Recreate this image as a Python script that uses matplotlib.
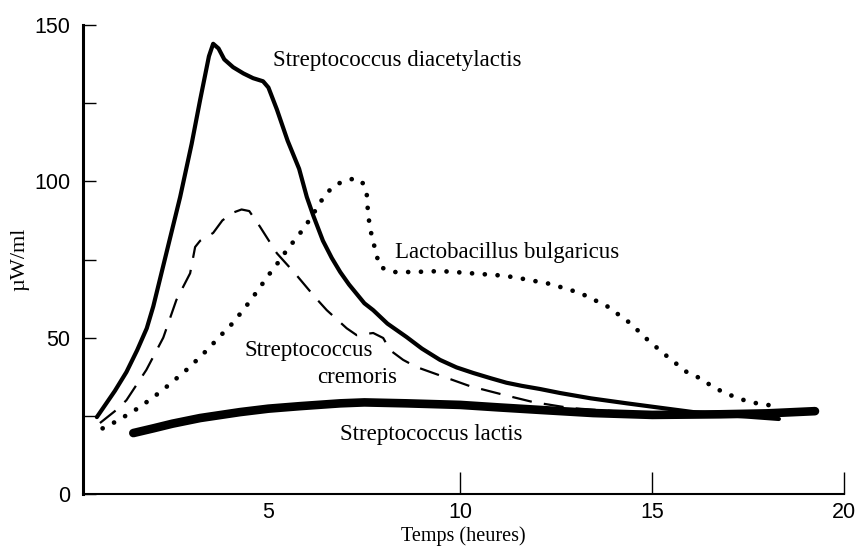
import numpy as np
import matplotlib
matplotlib.use("Agg")
import matplotlib.pyplot as plt

# Streptococcus diacetylactis (solid)
diac_x = [0.53, 1.0, 1.3, 1.58, 1.83, 2.0, 2.3, 2.7, 3.0, 3.22, 3.45, 3.56, 3.7, 3.85,
          4.08, 4.35, 4.6, 4.86, 5.0, 5.22, 5.5, 5.8, 6.0, 6.17, 6.42, 6.65, 6.87,
          7.1, 7.3, 7.5, 7.73, 8.1, 8.6, 9.0, 9.47, 9.9, 10.34, 10.8, 11.2, 11.6,
          12.07, 12.6, 13.4, 14.34, 15.2, 16.07, 17.2, 18.3]
diac_y = [24.6, 33, 39, 46, 53, 60, 75, 95, 112, 126, 140, 144, 142.5, 139,
          136.5, 134.5, 133, 132, 130, 123, 113, 104, 95, 89, 81, 75.5, 71,
          67, 64, 61, 58.8, 54.5, 50.2, 46.5, 42.9, 40.5, 38.7, 37, 35.6, 34.6,
          33.6, 32.3, 30.6, 29, 27.6, 26.2, 25, 24]

# Streptococcus cremoris (dashed)
crem_x = [0.61, 1.05, 1.3, 1.82, 2.26, 2.6, 2.96, 3.09, 3.22, 3.56, 3.8, 4.08, 4.3,
          4.5, 4.78, 5.22, 5.69, 6.21, 6.52, 7.04, 7.3, 7.73, 7.99, 8.17, 8.51,
          8.86, 9.68, 10.25, 11.2, 11.9, 12.86, 14.0, 15.0]
crem_y = [22.7, 27, 30, 39.7, 50, 62, 70.6, 79, 81, 83.5, 87.5, 90, 91, 90.5, 85.5,
          77, 70.6, 63, 58.8, 53, 50.8, 51.5, 49.9, 46, 42.9, 40.6, 37, 34.5,
          31.5, 29.4, 27.5, 26.5, 25.5]

# Lactobacillus bulgaricus (dotted)
bulg_x = [0.68, 1.0, 1.32, 1.61, 1.94, 2.25, 2.52, 2.83, 3.14, 3.43, 3.74, 4.05, 4.3,
          4.54, 5.04, 5.3, 5.51, 5.74, 5.98, 6.26, 6.47, 6.73, 7.04, 7.3, 7.46,
          7.56, 7.59, 7.64, 7.72, 7.83, 7.91, 8.25, 8.77, 9.5, 10.07, 10.6, 11.16,
          11.64, 12.34, 13.12, 13.82, 14.42, 14.89, 15.41, 15.9, 16.25, 16.59,
          16.85, 17.16, 17.47, 17.73, 18.0, 18.28]
bulg_y = [21, 23, 25.3, 27.5, 30.4, 33.3, 36.1, 39.3, 42.9, 46.4, 50.5, 54.4, 58.2,
          62, 70.6, 74.8, 78.6, 82, 86, 91.4, 95.6, 98.8, 100.4, 101, 99.4,
          96.2, 90.8, 85.4, 81.2, 75.8, 72.6, 71, 71, 71.3, 70.8, 70.3, 69.8,
          68.8, 67.2, 64.3, 60.1, 54.7, 49.2, 43.8, 39, 37, 34.2,
          32.6, 31, 29.7, 29, 28.5, 28]

# Streptococcus lactis (thick solid)
lact_x = [1.48, 2.0, 2.5, 3.22, 4.26, 5.0, 5.82, 6.87, 7.5, 8.6, 10.0, 11.0, 12.07,
          13.46, 15.0, 16.77, 18.0, 19.24]
lact_y = [19.5, 21, 22.5, 24.3, 26.2, 27.3, 28.1, 29, 29.3, 29, 28.5, 27.7, 26.9,
          25.9, 25.3, 25.5, 25.8, 26.5]

serif = "Liberation Serif"
sans = "Liberation Sans"

fig = plt.figure(figsize=(8.57, 5.46), dpi=100)
ax = fig.add_axes([0.0969, 0.0952, 0.8881, 0.8590])

ax.plot(diac_x, diac_y, color="black", lw=3.0, solid_capstyle="round",
        solid_joinstyle="round")
ax.plot(crem_x, crem_y, color="black", lw=1.6, linestyle=(0, (9, 5.5)))
ax.plot(bulg_x, bulg_y, color="black", lw=3.4, linestyle=(0, (0.01, 2.7)),
        dash_capstyle="round")
ax.plot(lact_x, lact_y, color="black", lw=6.2, solid_capstyle="round")

ax.set_xlim(0.17, 20)
ax.set_ylim(0, 150)

for s in ["top", "right"]:
    ax.spines[s].set_visible(False)
ax.spines["left"].set_linewidth(2.2)
ax.spines["bottom"].set_linewidth(1.5)

ax.set_xticks([5, 10, 15, 20])
ax.set_yticks([0, 25, 50, 75, 100, 125, 150])
ax.set_yticklabels(["0", "", "50", "", "100", "", "150"])
ax.tick_params(axis="y", direction="in", length=9.5, width=1.0, pad=9,
               labelsize=15.5)
ax.tick_params(axis="x", direction="in", length=16, width=1.0, pad=6,
               labelsize=15.5)
ax.xaxis.get_major_ticks()[0].tick1line.set_visible(False)
for lab in ax.get_xticklabels() + ax.get_yticklabels():
    lab.set_fontfamily(sans)

ax.set_xlabel("Temps (heures)", fontfamily=serif, fontsize=14.5, labelpad=2)
ax.set_ylabel("µW/ml", fontfamily=serif, fontsize=16, labelpad=4)

ax.text(5.12, 138.8, "Streptococcus diacetylactis", fontfamily=serif, fontsize=16.5,
        va="center", ha="left")
ax.text(8.3, 77.4, "Lactobacillus bulgaricus", fontfamily=serif, fontsize=16.5,
        va="center", ha="left")
ax.text(6.06, 46, "Streptococcus", fontfamily=serif, fontsize=16.5,
        va="center", ha="center")
ax.text(7.31, 37.4, "cremoris", fontfamily=serif, fontsize=16.5,
        va="center", ha="center")
ax.text(6.87, 18.9, "Streptococcus lactis", fontfamily=serif, fontsize=16.5,
        va="center", ha="left")

fig.savefig("out.png", dpi=100, facecolor="white")
